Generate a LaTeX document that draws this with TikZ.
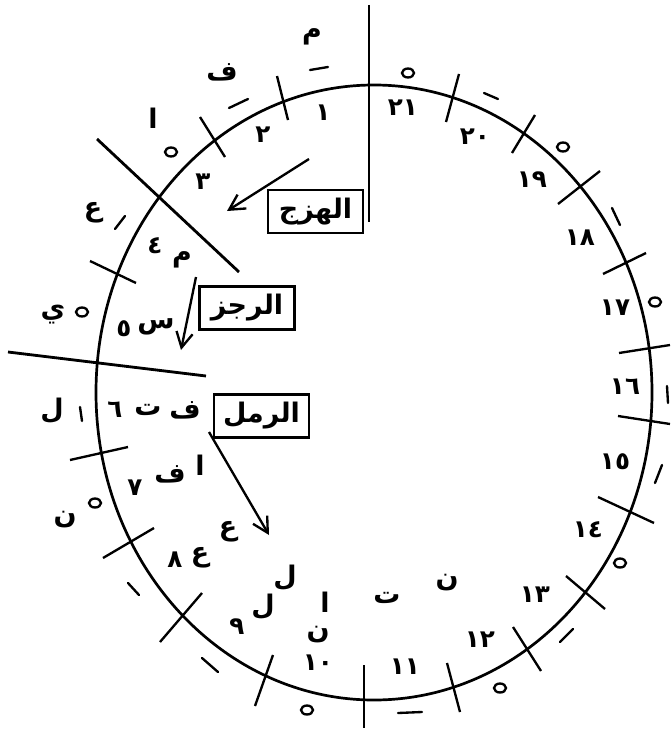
\documentclass[tikz,border=0pt]{standalone}
\usepackage{fontspec}
\usetikzlibrary{arrows.meta}
\TeXXeTstate=1
\newfontfamily\arabicfont[Script=Arabic]{DejaVu Sans}
\tikzset{
    ring/.style={line width=2.3pt},
    tickline/.style={line width=2pt},
    divline/.style={line width=2.4pt},
    haraka/.style={line width=2pt, line cap=round},
    sukun/.style={line width=2pt},
    numlbl/.style={inner sep=0pt, font=\arabicfont\bfseries\fontsize{21}{24}\selectfont},
    letter/.style={inner sep=0pt, font=\arabicfont\bfseries\fontsize{23}{26}\selectfont},
    metrebox/.style={
        draw,
        line width=1.8pt,
        minimum width=2.85cm,
        minimum height=1.29cm,
        inner sep=1pt,
        font=\arabicfont\bfseries\fontsize{23}{26}\selectfont
    },
    metrearrow/.style={-{Straight Barb[length=13pt,width=14pt]}, line width=2pt}
}
\begin{document}
\begin{tikzpicture}[x=0.03cm, y=-0.03cm]
\useasboundingbox (0,0) rectangle (670,731);

% the ring
\draw[ring] (374,392.5) ellipse [x radius=278, y radius=307.5];

% dividing lines of the three metres
\draw[divline] (369,5) -- (369,222);
\draw[divline] (97,139) -- (239,272);
\draw[divline] (8,352) -- (206,376);

% ticks between the letters
\draw[tickline] (446,122) -- (459,74);
\draw[tickline] (512,153) -- (535,115);
\draw[tickline] (558,204) -- (600,171);
\draw[tickline] (603,274) -- (646,253);
\draw[tickline] (619,353) -- (670,345);
\draw[tickline] (618,416) -- (670,424);
\draw[tickline] (598,497) -- (654,523);
\draw[tickline] (566,576) -- (605,609);
\draw[tickline] (513,627) -- (541,671);
\draw[tickline] (447,663) -- (460,712);
\draw[tickline] (364,665) -- (364,728);
\draw[tickline] (273,655) -- (255,706);
\draw[tickline] (202,593) -- (160,642);
\draw[tickline] (154,528) -- (103,558);
\draw[tickline] (70,460) -- (128,447);
\draw[tickline] (90,261) -- (136,283);
\draw[tickline] (200,117) -- (225,157);
\draw[tickline] (277,76) -- (288,120);

% moving letters (/) outside the ring
\draw[haraka] (310,70) -- (328,67);
\draw[haraka] (229,108) -- (248,99);
\draw[haraka] (115,229) -- (125,216);
\draw[haraka] (80,407) -- (82,421);
\draw[haraka] (128,583) -- (139,595);
\draw[haraka] (202,658) -- (218,672);
\draw[haraka] (398,713) -- (422,712);
\draw[haraka] (560,642) -- (573,629);
\draw[haraka] (655,483) -- (662,465);
\draw[haraka] (667,386) -- (668,403);
\draw[haraka] (612,208) -- (620,225);
\draw[haraka] (484,93) -- (498,99);

% quiescent letters (o) outside the ring
\draw[sukun] (171,152) ellipse [x radius=6, y radius=4.5];
\draw[sukun] (82,312) ellipse [x radius=6, y radius=4.5];
\draw[sukun] (95,503) ellipse [x radius=6, y radius=4.5];
\draw[sukun] (307,710) ellipse [x radius=6, y radius=4.5];
\draw[sukun] (500,688) ellipse [x radius=6, y radius=4.5];
\draw[sukun] (620,563) ellipse [x radius=6, y radius=4.5];
\draw[sukun] (655,302) ellipse [x radius=6, y radius=4.5];
\draw[sukun] (563,147) ellipse [x radius=6, y radius=4.5];
\draw[sukun] (408,73) ellipse [x radius=6, y radius=4.5];

% letters of the hazaj foot
\node[letter] (hz1) at (312,37) {م};
\node[letter] (hz2) at (222,72) {ف};
\node[letter] (hz3) at (153,118) {ا};
\node[letter] (hz4) at (93,213) {ع};
\node[letter] (hz5) at (53,315) {ي};
\node[letter] (hz6) at (52,411) {ل};
\node[letter] (hz7) at (65,520) {ن};

% letters of the rajaz foot
\node[letter] (rj4) at (182,260) {م};
\node[letter] (rj5) at (156,327) {س};
\node[letter] (rj6) at (148,410) {ت};
\node[letter] (rj7) at (170,474) {ف};
\node[letter] (rj8) at (200,558) {ع};
\node[letter] (rj9) at (263,607) {ل};
\node[letter] (rj10) at (318,635) {ن};

% letters of the ramal foot
\node[letter] (rm6) at (185,410) {ف};
\node[letter] (rm7) at (200,465) {ا};
\node[letter] (rm8) at (228,532) {ع};
\node[letter] (rm9) at (285,578) {ل};
\node[letter] (rm10) at (325,602) {ا};
\node[letter] (rm11) at (387,598) {ت};
\node[letter] (rm12) at (447,583) {ن};

% numbers round the ring
\node[numlbl] (n1) at (323,113) {١};
\node[numlbl] (n2) at (263,135) {٢};
\node[numlbl] (n3) at (203,182) {٣};
\node[numlbl] (n4) at (155,246) {٤};
\node[numlbl] (n5) at (124,329) {٥};
\node[numlbl] (n6) at (115,410) {٦};
\node[numlbl] (n7) at (135,488) {٧};
\node[numlbl] (n8) at (175,560) {٨};
\node[numlbl] (n9) at (237,627) {٩};
\node[numlbl] (n10) at (318,663) {١٠};
\node[numlbl] (n11) at (405,667) {١١};
\node[numlbl] (n12) at (480,640) {١٢};
\node[numlbl] (n13) at (535,595) {١٣};
\node[numlbl] (n14) at (588,530) {١٤};
\node[numlbl] (n15) at (615,462) {١٥};
\node[numlbl] (n16) at (625,387) {١٦};
\node[numlbl] (n17) at (615,308) {١٧};
\node[numlbl] (n18) at (580,238) {١٨};
\node[numlbl] (n19) at (532,180) {١٩};
\node[numlbl] (n20) at (475,137) {٢٠};
\node[numlbl] (n21) at (403,108) {٢١};

% names of the metres
\node[metrebox] (hazaj) at (315.5,211.5) {\beginR الهزج\endR};
\node[metrebox] (rajaz) at (247,308) {\beginR الرجز\endR};
\node[metrebox] (ramal) at (261.5,416) {\beginR الرمل\endR};

% where each metre starts
\coordinate (hzfrom) at (309,159);
\coordinate (hzto) at (227,211);
\coordinate (rjfrom) at (196,277);
\coordinate (rjto) at (181,350);
\coordinate (rmfrom) at (209,432);
\coordinate (rmto) at (269,535);
\draw[metrearrow] (hzfrom) -- (hzto);
\draw[metrearrow] (rjfrom) -- (rjto);
\draw[metrearrow] (rmfrom) -- (rmto);

\end{tikzpicture}
\end{document}
